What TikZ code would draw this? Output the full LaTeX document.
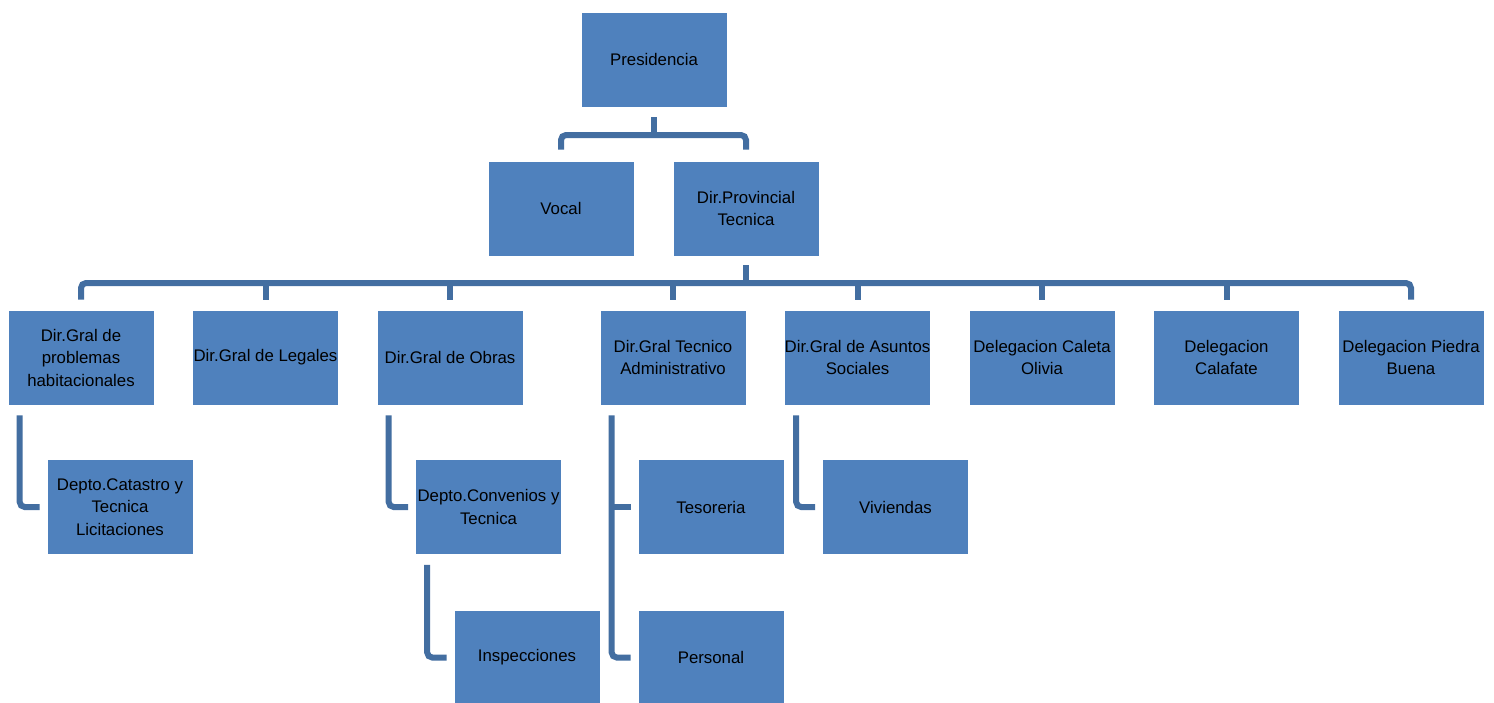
\documentclass[tikz,border=0pt]{standalone}
\usepackage{fontspec}
\setmainfont{Liberation Sans}
\definecolor{boxfill}{RGB}{79,129,189}
\definecolor{linecol}{RGB}{67,110,161}
\begin{document}
\begin{tikzpicture}[x=1pt,y=-1pt,
  orgbox/.style={rectangle,fill=boxfill,draw=white,line width=0.6pt,minimum width=146pt,minimum height=95pt,inner sep=0pt,align=center,font=\fontsize{16.8}{22.5}\selectfont,text=black},
  conn/.style={draw=linecol,line width=6pt,rounded corners=5pt}]
\clip (0,0) rectangle (1494,702);
\fill[white] (0,0) rectangle (1494,702);
% level 0/1
\node[orgbox] (pres) at (654,59.5) {Presidencia};
\node[orgbox] (vocal) at (561,208.5) {Vocal};
\node[orgbox] (dirprov) at (746,208.5) {Dir.Provincial\\Tecnica};
% level 2
\node[orgbox] (probl) at (81,357.5) {Dir.Gral de\\problemas\\habitacionales};
\node[orgbox] (legal) at (265.5,357.5) {Dir.Gral de Legales};
\node[orgbox] (obras) at (450,357.5) {Dir.Gral de Obras};
\node[orgbox] (tecad) at (673,357.5) {Dir.Gral Tecnico\\Administrativo};
\node[orgbox] (asunt) at (857.5,357.5) {Dir.Gral de Asuntos\\Sociales};
\node[orgbox] (caleta) at (1042,357.5) {Delegacion Caleta\\Olivia};
\node[orgbox] (calaf) at (1226.5,357.5) {Delegacion\\Calafate};
\node[orgbox] (piedra) at (1411,357.5) {Delegacion Piedra\\Buena};
% level 3
\node[orgbox] (catas) at (120,507) {Depto.Catastro y\\Tecnica\\Licitaciones};
\node[orgbox] (conv) at (488.5,507) {Depto.Convenios y\\Tecnica};
\node[orgbox] (tesor) at (711,507) {Tesoreria};
\node[orgbox] (vivi) at (895.5,507) {Viviendas};
% level 4
\node[orgbox] (insp) at (527,657.5) {Inspecciones};
\node[orgbox] (pers) at (711,657.5) {Personal};
% connectors top
\coordinate (b1) at (654,135);
\draw[conn] ([yshift=-10pt]pres.south) -- (b1);
\draw[conn] ([yshift=11pt]vocal.north) |- (b1) -| ([yshift=11pt]dirprov.north);
% bus level 2
\coordinate (b2) at (746,283);
\draw[conn] ([yshift=-9pt]dirprov.south) -- (b2);
\draw[conn] ([yshift=10pt]probl.north) |- (b2) -| ([yshift=10pt]piedra.north);
\foreach \n in {legal,obras,tecad,asunt,caleta,calaf}
  \draw[conn] ([yshift=10pt]\n.north) -- (\n.north |- b2);
% elbows
\draw[conn] ([xshift=12pt,yshift=-10pt]probl.south west) |- ([xshift=-7pt]catas.west);
\draw[conn] ([xshift=12pt,yshift=-10pt]obras.south west) |- ([xshift=-7pt]conv.west);
\draw[conn] ([xshift=12pt,yshift=-10pt]conv.south west) |- ([xshift=-7pt]insp.west);
\draw[conn] ([xshift=12pt,yshift=-10pt]tecad.south west) |- ([xshift=-7pt]pers.west);
\draw[conn,rounded corners=0pt] ([xshift=12pt]tecad.south west |- tesor.west) -- ([xshift=-7pt]tesor.west);
\draw[conn] ([xshift=12pt,yshift=-10pt]asunt.south west) |- ([xshift=-7pt]vivi.west);
\end{tikzpicture}
\end{document}
